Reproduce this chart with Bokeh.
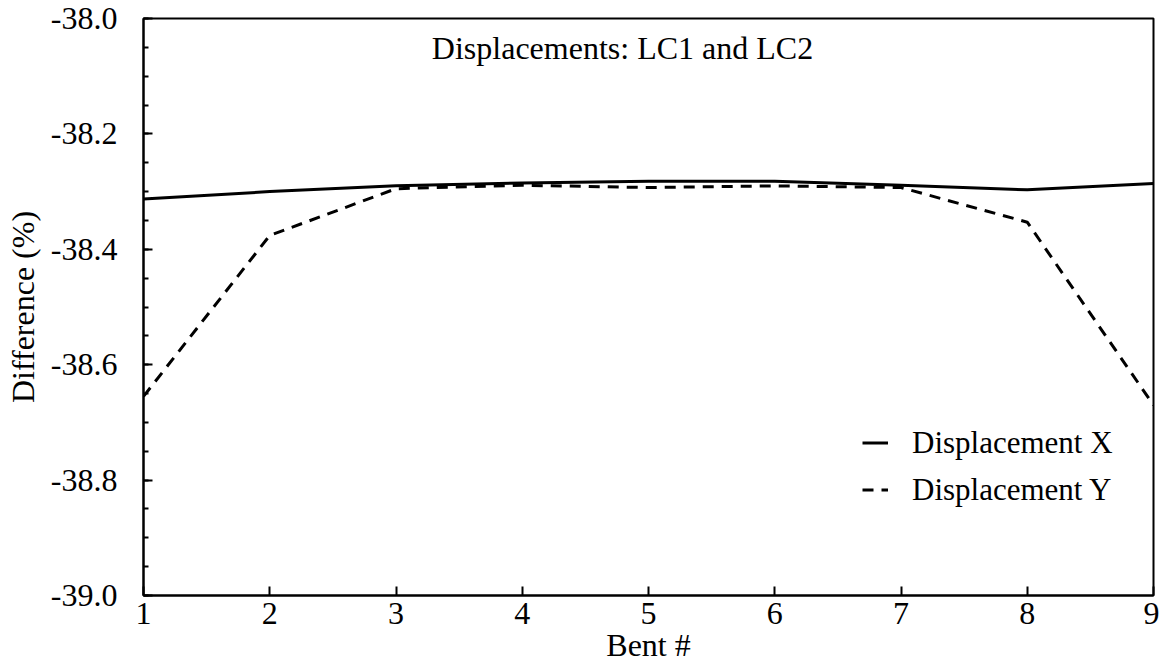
from bokeh.plotting import figure
from bokeh.models import (Legend, LegendItem, Label, SingleIntervalTicker, Range1d,
                          PrintfTickFormatter)
from bokeh.embed import file_html
from bokeh.resources import INLINE

bents = [1, 2, 3, 4, 5, 6, 7, 8, 9]
disp_x = [-38.313, -38.300, -38.290, -38.285, -38.282, -38.282, -38.289, -38.297, -38.286]
disp_y = [-38.655, -38.376, -38.295, -38.289, -38.293, -38.290, -38.293, -38.353, -38.670]
series_names = ["Displacement X", "Displacement Y"]
title_text = "Displacements: LC1 and LC2"
x_label = "Bent #"
y_label = "Difference (%)"

FONT = "Liberation Serif"
FS = "32px"

p = figure(width=1159, height=667, output_backend="svg", toolbar_location=None,
           x_range=Range1d(1, 9), y_range=Range1d(-39.0, -38.0),
           min_border_left=143, min_border_top=18, min_border_right=6,
           min_border_bottom=72)
p.background_fill_color = "white"
p.border_fill_color = "white"
p.outline_line_color = "black"
p.outline_line_width = 2
p.grid.visible = False

l1 = p.line(bents, disp_x, line_color="black", line_width=3)
l2 = p.line(bents, disp_y, line_color="black", line_width=3, line_dash="11 8")

p.xaxis.ticker = SingleIntervalTicker(interval=1, num_minor_ticks=0)
p.yaxis.ticker = SingleIntervalTicker(interval=0.2, num_minor_ticks=4)
p.yaxis.formatter = PrintfTickFormatter(format="%.1f")
for ax in (p.xaxis[0], p.yaxis[0]):
    ax.axis_line_color = "black"
    ax.axis_line_width = 2
    ax.major_tick_line_color = "black"
    ax.major_tick_line_width = 2
    ax.minor_tick_line_color = "black"
    ax.minor_tick_line_width = 2
    ax.major_tick_in = 9
    ax.major_tick_out = 0
    ax.minor_tick_in = 5
    ax.minor_tick_out = 0
    ax.major_label_text_font = FONT
    ax.major_label_text_font_size = FS
    ax.major_label_text_color = "black"
    ax.axis_label_text_font = FONT
    ax.axis_label_text_font_size = FS
    ax.axis_label_text_font_style = "normal"
    ax.axis_label_text_color = "black"

p.xaxis.axis_label = x_label
p.yaxis.axis_label = y_label
p.xaxis.major_label_standoff = 7
p.xaxis.axis_label_standoff = 0
p.yaxis.major_label_standoff = 26
p.yaxis.axis_label_standoff = 7

legend = Legend(items=[LegendItem(label=series_names[0], renderers=[l1]),
                       LegendItem(label=series_names[1], renderers=[l2])],
                location=(719, 82), padding=0, margin=0, spacing=0,
                glyph_width=26, glyph_height=47, label_height=47,
                label_standoff=24,
                label_text_font=FONT, label_text_font_size="31px",
                label_text_color="black",
                background_fill_alpha=0, border_line_alpha=0)
p.add_layout(legend)

p.add_layout(Label(x=479, y=548, x_units="screen", y_units="screen",
                   text=title_text, text_align="center", text_baseline="middle",
                   text_font=FONT, text_font_size=FS, text_color="black"))

open("out.html", "w").write(file_html(p, INLINE))
